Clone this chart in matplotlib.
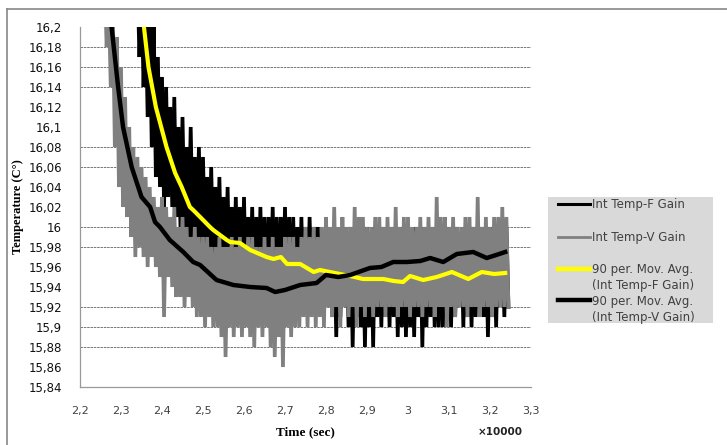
import numpy as np
import matplotlib
matplotlib.use("Agg")
from matplotlib import pyplot as plt
from matplotlib.lines import Line2D
from matplotlib.patches import Rectangle
from matplotlib.ticker import FuncFormatter

# raw readings, one low/high pair per 0.01 step (x in units of 10000 s)
v_x0 = 2.25
v_hi = [16.26, 16.25, 16.23, 16.22, 16.19, 16.16, 16.13, 16.10, 16.08, 16.07,
        16.06, 16.05, 16.04, 16.03, 16.02, 16.03, 16.02, 16.01, 16.02, 16.00,
        16.01, 16.00, 15.99, 16.00, 15.99, 15.99, 15.99, 15.98, 15.98, 15.99,
        15.98, 15.98, 15.99, 15.98, 15.99, 15.98, 15.99, 15.99, 15.98, 15.98,
        15.99, 15.98, 15.99, 15.98, 15.98, 15.99, 15.99, 15.99, 15.98, 15.99,
        16.00, 15.99, 16.00, 15.99, 16.00, 16.01, 16.00, 16.02, 16.00, 16.01,
        16.00, 16.00, 16.02, 16.01, 16.01, 16.00, 16.00, 16.01, 16.01, 16.00,
        16.01, 16.00, 16.02, 16.00, 16.01, 16.01, 16.00, 16.00, 16.01, 16.00,
        16.01, 16.00, 16.03, 16.01, 16.01, 16.00, 16.01, 16.00, 16.00, 16.01,
        16.01, 16.00, 16.03, 16.00, 16.01, 16.00, 16.01, 16.01, 16.02, 16.01]
v_lo = [16.20, 16.18, 16.14, 16.08, 16.04, 16.02, 16.01, 15.99, 15.97, 15.98,
        15.97, 15.96, 15.97, 15.96, 15.95, 15.91, 15.95, 15.94, 15.93, 15.93,
        15.92, 15.93, 15.92, 15.91, 15.91, 15.90, 15.91, 15.90, 15.90, 15.89,
        15.87, 15.90, 15.89, 15.90, 15.89, 15.90, 15.89, 15.88, 15.90, 15.89,
        15.90, 15.88, 15.87, 15.89, 15.86, 15.90, 15.89, 15.90, 15.90, 15.91,
        15.90, 15.91, 15.90, 15.91, 15.90, 15.92, 15.91, 15.92, 15.90, 15.92,
        15.91, 15.92, 15.90, 15.92, 15.91, 15.92, 15.91, 15.92, 15.92, 15.91,
        15.92, 15.92, 15.91, 15.92, 15.92, 15.91, 15.92, 15.92, 15.91, 15.92,
        15.92, 15.91, 15.92, 15.92, 15.90, 15.92, 15.91, 15.92, 15.92, 15.91,
        15.92, 15.92, 15.91, 15.92, 15.92, 15.91, 15.92, 15.92, 15.92, 15.92]

f_x0 = 2.33
f_hi = [16.26, 16.25, 16.24, 16.22, 16.21, 16.20, 16.17, 16.15, 16.14, 16.12,
        16.13, 16.10, 16.11, 16.08, 16.10, 16.07, 16.08, 16.07, 16.05, 16.06,
        16.04, 16.05, 16.03, 16.04, 16.02, 16.03, 16.02, 16.03, 16.01, 16.02,
        16.01, 16.02, 16.01, 16.01, 16.02, 16.01, 16.01, 16.02, 16.01, 16.01,
        16.00, 16.01, 16.00, 16.01, 16.00, 16.00, 15.99, 16.00, 15.99, 16.00,
        15.99, 16.00, 15.99, 16.00, 15.99, 16.00, 15.99, 16.00, 15.99, 16.00,
        15.99, 16.00, 15.99, 16.00, 15.99, 16.00, 15.99, 16.00, 15.99, 16.00,
        15.99, 16.00, 15.99, 16.00, 15.99, 16.00, 15.99, 16.00, 15.99, 16.00,
        15.99, 16.00, 15.99, 16.00, 15.99, 16.00, 15.99, 16.00, 15.99, 16.00,
        15.99, 16.00]
f_lo = [16.22, 16.17, 16.14, 16.11, 16.08, 16.05, 16.04, 16.02, 16.03, 16.02,
        16.01, 16.00, 16.00, 15.99, 15.99, 15.98, 15.98, 15.97, 15.97, 15.96,
        15.96, 15.95, 15.95, 15.94, 15.94, 15.94, 15.93, 15.93, 15.93, 15.92,
        15.93, 15.92, 15.92, 15.93, 15.92, 15.92, 15.93, 15.92, 15.92, 15.92,
        15.92, 15.92, 15.92, 15.93, 15.92, 15.92, 15.91, 15.92, 15.91, 15.89,
        15.91, 15.92, 15.90, 15.88, 15.91, 15.90, 15.88, 15.90, 15.88, 15.91,
        15.90, 15.91, 15.90, 15.91, 15.89, 15.90, 15.89, 15.90, 15.89, 15.91,
        15.88, 15.90, 15.91, 15.90, 15.90, 15.90, 15.91, 15.90, 15.91, 15.92,
        15.90, 15.91, 15.90, 15.91, 15.92, 15.91, 15.89, 15.91, 15.90, 15.92,
        15.91, 15.92]

# 90 period moving averages
ma_f_x = [2.345, 2.356, 2.367, 2.385, 2.411, 2.432, 2.448, 2.468, 2.476, 2.493,
          2.517, 2.525, 2.558, 2.566, 2.590, 2.615, 2.655, 2.672, 2.690, 2.705,
          2.737, 2.770, 2.785, 2.834, 2.870, 2.890, 2.940, 2.965, 2.988, 3.005,
          3.037, 3.070, 3.107, 3.147, 3.180, 3.210, 3.237]
ma_f_y = [16.24, 16.200, 16.160, 16.120, 16.080, 16.054, 16.040, 16.020, 16.017, 16.010,
          16.000, 15.997, 15.987, 15.985, 15.984, 15.977, 15.970, 15.968, 15.970, 15.963,
          15.963, 15.955, 15.957, 15.953, 15.950, 15.948, 15.948, 15.946, 15.945, 15.951,
          15.947, 15.950, 15.955, 15.948, 15.955, 15.953, 15.954]

ma_v_x = [2.270, 2.277, 2.293, 2.305, 2.326, 2.350, 2.371, 2.383, 2.395, 2.419,
          2.452, 2.476, 2.493, 2.533, 2.574, 2.615, 2.655, 2.676, 2.700, 2.737,
          2.777, 2.800, 2.830, 2.859, 2.907, 2.935, 2.964, 2.997, 3.030, 3.054,
          3.086, 3.119, 3.159, 3.192, 3.215, 3.237]
ma_v_y = [16.23, 16.200, 16.140, 16.100, 16.060, 16.030, 16.020, 16.005, 16.000, 15.987,
          15.975, 15.965, 15.962, 15.947, 15.942, 15.940, 15.939, 15.935, 15.937, 15.942,
          15.944, 15.952, 15.950, 15.952, 15.959, 15.960, 15.965, 15.965, 15.966, 15.969,
          15.965, 15.973, 15.975, 15.969, 15.972, 15.975]

y_ticks = [15.84, 15.86, 15.88, 15.9, 15.92, 15.94, 15.96, 15.98, 16.0,
           16.02, 16.04, 16.06, 16.08, 16.1, 16.12, 16.14, 16.16, 16.18, 16.2]
x_ticks = [2.2, 2.3, 2.4, 2.5, 2.6, 2.7, 2.8, 2.9, 3.0, 3.1, 3.2, 3.3]
grid_vals = [16.18, 16.16, 16.14, 16.08, 16.06, 16.0, 15.98, 15.92, 15.9, 15.88]

labels = ['Int Temp-F Gain', 'Int Temp-V Gain',
          '90 per. Mov. Avg.\n(Int Temp-F Gain)', '90 per. Mov. Avg.\n(Int Temp-V Gain)']


def zigzag(x0, hi, lo):
    xs, ys = [], []
    for i in range(len(hi)):
        x = x0 + i * 0.01
        xs += [x, x + 0.005]
        ys += [hi[i], lo[i]]
    return xs, ys


fig = plt.figure(figsize=(7.27, 4.45), dpi=100)
ax = fig.add_axes([80 / 727, 58 / 445, 451 / 727, 360 / 445])

fx, fy = zigzag(f_x0, f_hi, f_lo)
vx, vy = zigzag(v_x0, v_hi, v_lo)
ax.plot(fx, fy, color='black', lw=2.7, zorder=3, solid_joinstyle='bevel')
ax.plot(vx, vy, color='#808080', lw=2.7, zorder=4, solid_joinstyle='bevel')
ax.plot(ma_f_x, ma_f_y, color='#ffff00', lw=3, zorder=5)
ax.plot(ma_v_x, ma_v_y, color='black', lw=3.2, zorder=6)

for g in grid_vals:
    ax.axhline(g, color='#606060', lw=0.6, ls=(0, (3, 1)), zorder=1)

ax.set_xlim(2.2, 3.3)
ax.set_ylim(15.84, 16.2)
ax.set_xticks(x_ticks)
ax.set_yticks(y_ticks)
fmt = FuncFormatter(lambda v, p: ('%g' % round(v, 2)).replace('.', ','))
ax.xaxis.set_major_formatter(fmt)
ax.yaxis.set_major_formatter(fmt)
ax.tick_params(axis='both', length=0)
ax.tick_params(axis='y', labelsize=8.5, pad=13, labelcolor='#111111')
ax.tick_params(axis='x', labelsize=8, pad=14, labelcolor='#404040')
for s in ['top', 'right']:
    ax.spines[s].set_visible(False)
for s in ['left', 'bottom']:
    ax.spines[s].set_color('#999999')
    ax.spines[s].set_linewidth(0.9)

fig.text(18 / 727, 1 - 207 / 445, 'Temperature (C°)', rotation=90, ha='center', va='center',
         family='Liberation Serif', weight='bold', fontsize=9)
fig.text(305 / 727, 1 - 432 / 445, 'Time (sec)', ha='center', va='center',
         family='Liberation Serif', weight='bold', fontsize=9.5)
fig.text(500 / 727, 1 - 432 / 445, '×10000', ha='center', va='center',
         fontsize=7.5, weight='bold', color='#222222')

# legend box
fig.patches.append(Rectangle((548 / 727, 1 - 323 / 445), 165 / 727, 126 / 445,
                             transform=fig.transFigure, facecolor='#d9d9d9', edgecolor='none'))
leg_y = [204, 237, 269, 300]
leg_style = [('black', 2.2), ('#808080', 2.0), ('#ffff00', 3.2), ('black', 3.2)]
for lab, yy, (c, lw) in zip(labels, leg_y, leg_style):
    fig.add_artist(Line2D([558 / 727, 590 / 727], [1 - yy / 445] * 2, color=c, lw=lw,
                          transform=fig.transFigure))
    fig.text(592 / 727, 1 - (yy - 5.5) / 445, lab, ha='left', va='top', fontsize=8.5,
             color='#404040', linespacing=1.3)

# outer frame
fig.add_artist(Line2D([7 / 727, 1.0], [1 - 9 / 445] * 2, color='#888888', lw=1.2,
                      transform=fig.transFigure))
fig.add_artist(Line2D([7 / 727] * 2, [0.0, 1 - 9 / 445], color='#888888', lw=1.2,
                      transform=fig.transFigure))

plt.savefig('out.png', dpi=100)
